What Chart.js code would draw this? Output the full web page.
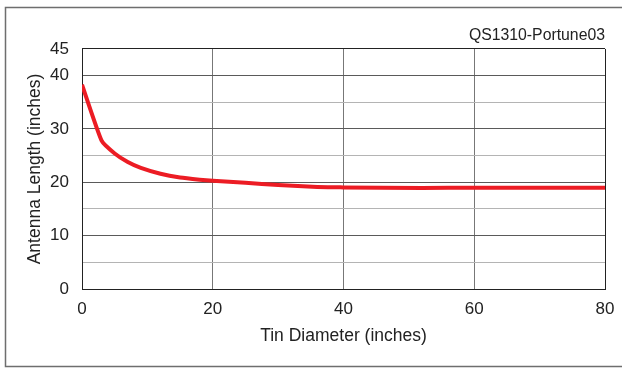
<!DOCTYPE html>
<html>
<head>
<meta charset="utf-8">
<script src="https://cdn.jsdelivr.net/npm/chart.js@4/dist/chart.umd.min.js"></script>
<style>
  html, body { margin: 0; padding: 0; background: #fff; }
  #wrap { width: 622px; height: 369px; position: relative; }
</style>
</head>
<body>
<div id="wrap"><canvas id="c" width="622" height="369"></canvas></div>
<script>
// Antenna length versus tin diameter
const tinDiameter = [0, 3, 5, 7, 9, 12, 15, 18, 20, 25, 30, 36, 40, 52, 60, 80];
const antennaLength = [38.3, 27.8, 25.4, 23.8, 22.7, 21.6, 20.9, 20.5, 20.3, 19.9, 19.5, 19.1, 19.05, 18.95, 19.0, 19.0];
const xTicks = [0, 20, 40, 60, 80];
const yTickLabels = [0, 10, 20, 30, 40, 45];
const chartTag = 'QS1310-Portune03';

const FONT = "'Liberation Sans', Arial, sans-serif";

const frame = {
  id: 'frame',
  beforeDraw(chart) {
    const ctx = chart.ctx;
    ctx.save();
    ctx.fillStyle = '#fff';
    ctx.fillRect(0, 0, chart.width, chart.height);
    ctx.strokeStyle = '#6e6e6e';
    ctx.lineWidth = 1.5;
    ctx.strokeRect(5.5, 7.5, 620, 359);
    ctx.restore();
  }
};

new Chart(document.getElementById('c'), {
  type: 'line',
  data: {
    datasets: [{
      data: tinDiameter.map((x, i) => ({ x, y: antennaLength[i] })),
      borderColor: '#ec1c24',
      borderWidth: 4,
      pointRadius: 0,
      tension: 0.15,
      fill: false
    }]
  },
  options: {
    responsive: false,
    animation: false,
    devicePixelRatio: 1,
    layout: { padding: { left: 0, right: 17, top: 0, bottom: 0 } },
    plugins: {
      legend: { display: false },
      tooltip: { enabled: false },
      title: {
        display: true,
        text: chartTag,
        align: 'end',
        color: '#222',
        font: { family: FONT, size: 15.8, weight: 'normal', lineHeight: 1.2 },
        padding: { top: 26, bottom: 4 }
      }
    },
    scales: {
      x: {
        type: 'linear',
        min: 0, max: 80,
        afterFit(s) { s.height = 80; s.paddingRight = 0; s.paddingLeft = 0; },
        afterBuildTicks(s) { s.ticks = xTicks.map(v => ({ value: v })); },
        ticks: { color: '#222', font: { family: FONT, size: 17 }, padding: 10, maxRotation: 0 },
        grid: { color: (c) => (c.tick && c.tick.value === 80) ? '#222' : '#777', lineWidth: 1, drawTicks: false },
        border: { display: true, color: '#222', width: 1 },
        title: {
          display: true,
          text: 'Tin Diameter (inches)',
          color: '#222',
          font: { family: FONT, size: 17.5, lineHeight: 1.2 },
          padding: { top: 0, bottom: 22.5 }
        }
      },
      y: {
        type: 'linear',
        min: 0, max: 45,
        afterFit(s) { s.width = 82; },
        ticks: {
          stepSize: 5,
          color: '#222',
          font: { family: FONT, size: 17 },
          padding: 13,
          callback: (v) => yTickLabels.includes(v) ? String(v) : ''
        },
        grid: {
          color: (c) => {
            const v = c.tick ? c.tick.value : 0;
            if (v === 45) return '#222';
            return v % 10 === 0 ? '#5a5a5a' : '#b4b4b4';
          },
          lineWidth: 1,
          drawTicks: false
        },
        border: { display: true, color: '#222', width: 1 },
        title: {
          display: true,
          text: 'Antenna Length (inches)',
          color: '#222',
          font: { family: FONT, size: 17.5, lineHeight: 1.2 },
          padding: { top: 24.5, bottom: 0 }
        }
      }
    }
  },
  plugins: [frame]
});
</script>
</body>
</html>
